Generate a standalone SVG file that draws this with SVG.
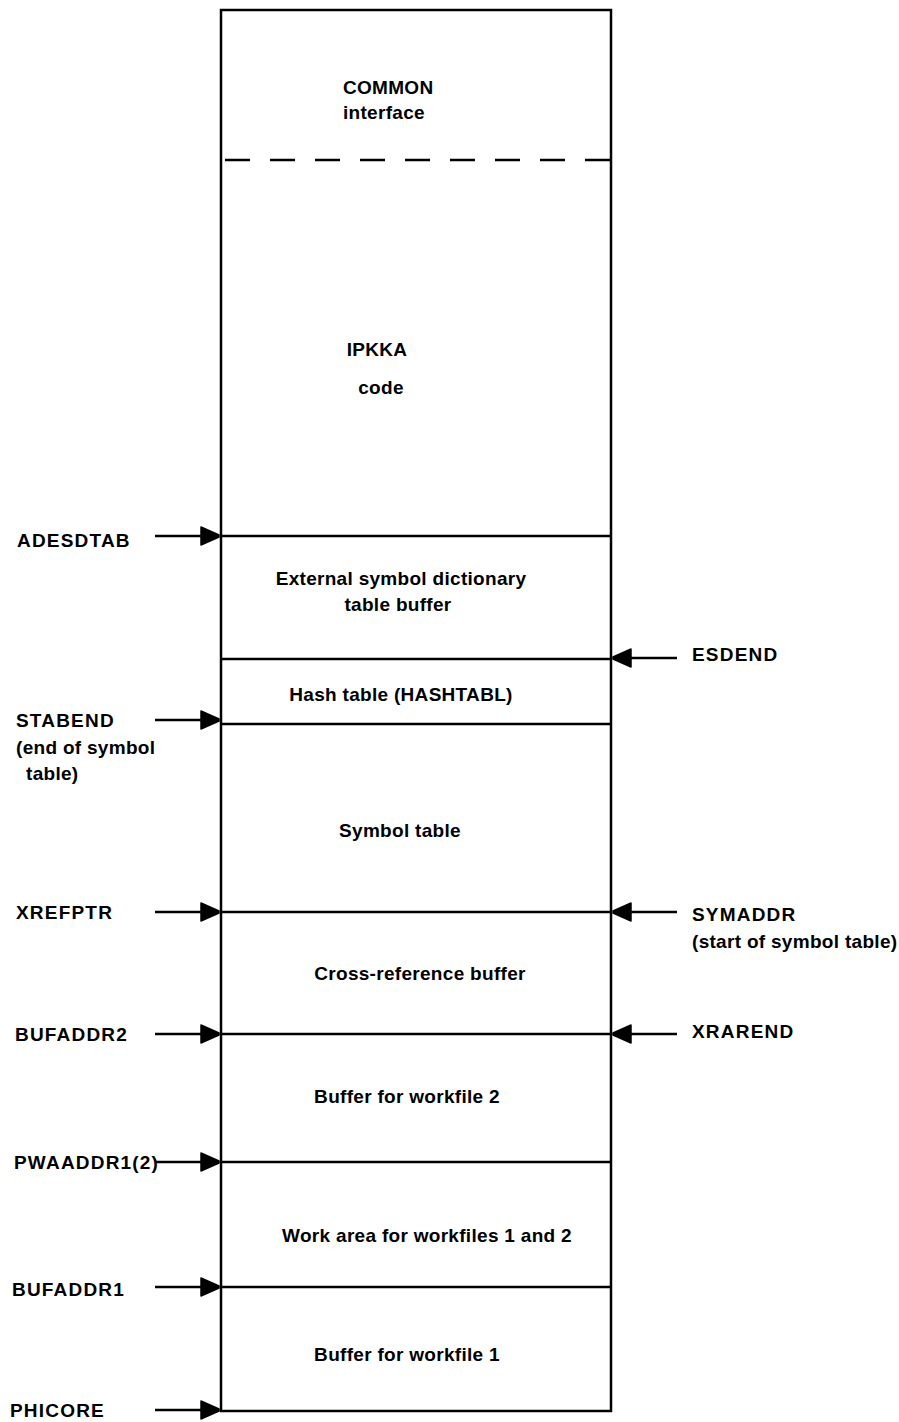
<svg xmlns="http://www.w3.org/2000/svg" width="899" height="1422" viewBox="0 0 899 1422">
<defs>
<marker id="ah" viewBox="0 0 20 20" refX="19" refY="10" markerWidth="20" markerHeight="20" markerUnits="userSpaceOnUse" orient="auto">
<path d="M1,1 L19,9 L19,11 L1,19 Z" fill="#000" stroke="#000" stroke-width="1.5" stroke-linejoin="round"/>
</marker>
<style>
text{font-family:"Liberation Sans",Arial,sans-serif;font-weight:bold;font-size:19px;letter-spacing:0.3px;fill:#000}
.c{text-anchor:middle}
.k{letter-spacing:1.2px}
.b{fill:none;stroke:#000;stroke-width:2.5}
.d{stroke:#000;stroke-width:2.5;stroke-dasharray:25 20}
.a{stroke:#000;stroke-width:2.5;marker-end:url(#ah)}
</style>
</defs>
<rect width="899" height="1422" fill="#fff"/>
<g id="memory">
<rect class="b" x="221" y="10" width="390" height="1401"/>
</g>
<g id="common">
<line class="d" x1="225" y1="160" x2="611" y2="160"/>
<text x="343" y="94">COMMON</text>
<text x="343" y="119">interface</text>
</g>
<g id="ipkka">
<text class="c" x="377" y="356">IPKKA</text>
<text class="c" x="381" y="394">code</text>
</g>
<g id="esd">
<line class="b" x1="221" y1="536" x2="611" y2="536"/>
<text class="c" x="401" y="585">External symbol dictionary</text>
<text class="c" x="398" y="611">table buffer</text>
</g>
<g id="hash">
<line class="b" x1="221" y1="659" x2="611" y2="659"/>
<text class="c" x="401" y="701">Hash table (HASHTABL)</text>
</g>
<g id="symtab">
<line class="b" x1="221" y1="724" x2="611" y2="724"/>
<text class="c" x="400" y="837">Symbol table</text>
</g>
<g id="xref">
<line class="b" x1="221" y1="912" x2="611" y2="912"/>
<text class="c" x="420" y="980">Cross-reference buffer</text>
</g>
<g id="buf2">
<line class="b" x1="221" y1="1034" x2="611" y2="1034"/>
<text class="c" x="407" y="1103">Buffer for workfile 2</text>
</g>
<g id="workarea">
<line class="b" x1="221" y1="1162" x2="611" y2="1162"/>
<text class="c" x="427" y="1242">Work area for workfiles 1 and 2</text>
</g>
<g id="buf1">
<line class="b" x1="221" y1="1287" x2="611" y2="1287"/>
<text class="c" x="407" y="1361">Buffer for workfile 1</text>
</g>
<g id="connectors">
<line class="a" x1="155" y1="536" x2="219" y2="536"/>
<line class="a" x1="155" y1="720" x2="219" y2="720"/>
<line class="a" x1="155" y1="912" x2="219" y2="912"/>
<line class="a" x1="155" y1="1034" x2="219" y2="1034"/>
<line class="a" x1="155" y1="1162" x2="219" y2="1162"/>
<line class="a" x1="155" y1="1287" x2="219" y2="1287"/>
<line class="a" x1="155" y1="1410" x2="219" y2="1410"/>
<line class="a" x1="677" y1="658" x2="613" y2="658"/>
<line class="a" x1="677" y1="912" x2="613" y2="912"/>
<line class="a" x1="677" y1="1034" x2="613" y2="1034"/>
</g>
<g id="labels">
<text class="k" x="17" y="547">ADESDTAB</text>
<text class="k" x="16" y="727">STABEND</text>
<text x="16" y="754">(end of symbol</text>
<text x="26" y="780">table)</text>
<text class="k" x="16" y="919">XREFPTR</text>
<text class="k" x="15" y="1041">BUFADDR2</text>
<text class="k" x="14" y="1169">PWAADDR1(2)</text>
<text class="k" x="12" y="1296">BUFADDR1</text>
<text class="k" x="10" y="1417">PHICORE</text>
<text class="k" x="692" y="661">ESDEND</text>
<text class="k" x="692" y="921">SYMADDR</text>
<text x="692" y="948">(start of symbol table)</text>
<text class="k" x="692" y="1038">XRAREND</text>
</g>
</svg>
